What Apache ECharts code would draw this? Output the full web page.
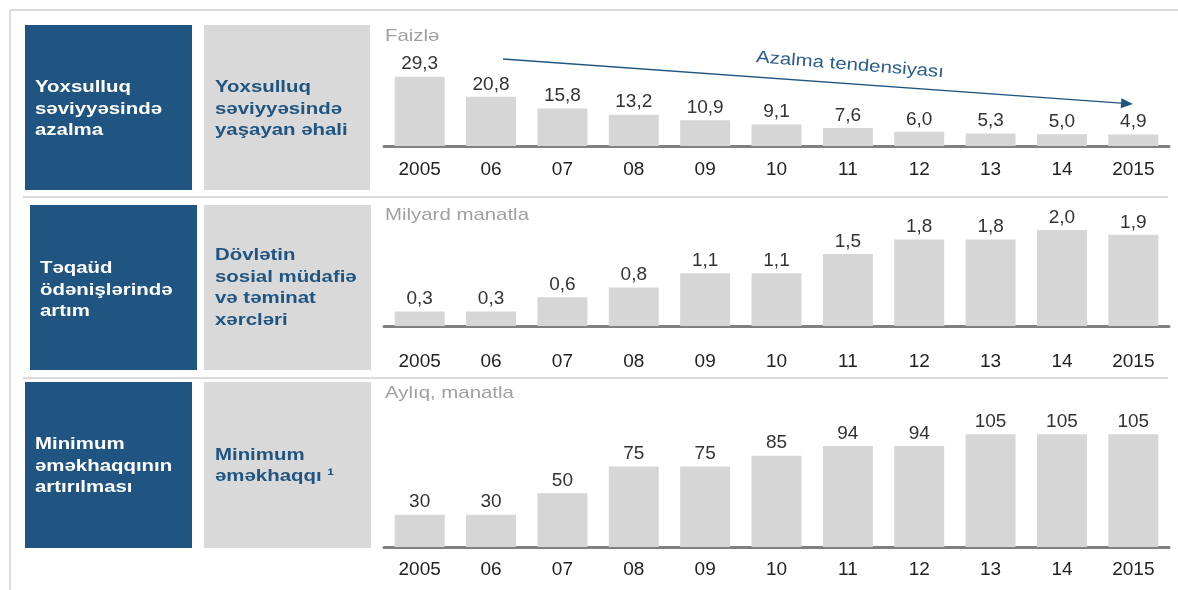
<!DOCTYPE html>
<html>
<head>
<meta charset="utf-8">
<script src="https://cdn.jsdelivr.net/npm/echarts@6/dist/echarts.min.js"></script>
<style>
  html, body { margin: 0; padding: 0; background: #fff; }
  #main { width: 1178px; height: 590px; }
</style>
</head>
<body>
<div id="main"></div>
<script>
// kateqoriyalar
var years = ['2005', '06', '07', '08', '09', '10', '11', '12', '13', '14', '2015']
// Yoxsulluq səviyyəsində yaşayan əhali, faizlə
var poverty = [29.3, 20.8, 15.8, 13.2, 10.9, 9.1, 7.6, 6.0, 5.3, 5.0, 4.9]
// Dövlətin sosial müdafiə və təminat xərcləri, milyard manatla
var socialSpend = [0.3, 0.3, 0.6, 0.8, 1.1, 1.1, 1.5, 1.8, 1.8, 2.0, 1.9]
// Minimum əməkhaqqı, aylıq, manatla
var minWage = [30, 30, 50, 75, 75, 85, 94, 94, 105, 105, 105]

var FONT = '"Liberation Sans", Arial, sans-serif'
var DARK = '#1f5580'
var LIGHT = '#d9d9d9'
var SX = 1.2 // şəkil bir az enə dartılıb

var myChart = echarts.init(document.getElementById('main'))

function comma (v) {
  return v.toFixed(1).replace('.', ',')
}

function xAxisFor (idx, margin) {
  return {
    type: 'category',
    gridIndex: idx,
    data: years,
    axisTick: { show: false },
    axisLine: { lineStyle: { color: '#808080', width: 3 } },
    axisLabel: { color: '#222', fontSize: 19, fontFamily: FONT, margin: margin }
  }
}

function yAxisFor (idx, max) {
  return {
    type: 'value',
    gridIndex: idx,
    min: 0,
    max: max,
    show: false,
    splitLine: { show: false }
  }
}

function barSeries (idx, data, fmt) {
  return {
    type: 'bar',
    xAxisIndex: idx,
    yAxisIndex: idx,
    data: data,
    barWidth: 50,
    itemStyle: { color: '#d6d6d6' },
    label: {
      show: true,
      position: 'top',
      distance: 3,
      color: '#333',
      fontSize: 19,
      fontFamily: FONT,
      formatter: function (p) { return fmt(p.value) }
    },
    animation: false
  }
}

// sol tərəfdəki qutular
function box (x, y, w, h, fill, lines, color, tx, ty) {
  return [
    { type: 'rect', shape: { x: x, y: y, width: w, height: h }, style: { fill: fill } },
    {
      type: 'text',
      x: tx,
      y: ty,
      scaleX: SX,
      style: {
        text: lines.join('\n'),
        fill: color,
        font: 'bold 17px ' + FONT,
        lineHeight: 21.5,
        verticalAlign: 'middle'
      }
    }
  ]
}

function unitText (x, y, t) {
  return { type: 'text', x: x, y: y, scaleX: SX, style: { text: t, fill: '#a0a0a0', font: '17px ' + FONT, verticalAlign: 'middle' } }
}

function hline (x1, x2, y) {
  return { type: 'line', shape: { x1: x1, y1: y, x2: x2, y2: y }, style: { stroke: '#dcdcdc', lineWidth: 2 } }
}

// tendensiya oxu
var ax1 = 503, ay1 = 59, ax2 = 1133, ay2 = 104
var ang = Math.atan2(ay2 - ay1, ax2 - ax1)
var hl = 12, hw = 5
var bx = ax2 - hl * Math.cos(ang), by = ay2 - hl * Math.sin(ang)
var head = [
  [ax2, ay2],
  [bx + hw * Math.sin(ang), by - hw * Math.cos(ang)],
  [bx - hw * Math.sin(ang), by + hw * Math.cos(ang)]
]

var graphics = [
  // çərçivə
  { type: 'line', shape: { x1: 10, y1: 10, x2: 1178, y2: 10 }, style: { stroke: '#dcdcdc', lineWidth: 2 } },
  { type: 'line', shape: { x1: 10, y1: 10, x2: 10, y2: 590 }, style: { stroke: '#dcdcdc', lineWidth: 2 } },
  hline(23, 1168, 197),
  hline(23, 1168, 378),
  unitText(385, 36, 'Faizlə'),
  unitText(385, 215, 'Milyard manatla'),
  unitText(385, 393, 'Aylıq, manatla'),
  { type: 'line', shape: { x1: ax1, y1: ay1, x2: bx, y2: by }, style: { stroke: DARK, lineWidth: 1.3 } },
  { type: 'polygon', shape: { points: head }, style: { fill: DARK } },
  {
    type: 'text',
    x: 850,
    y: 65,
    rotation: -4.6 * Math.PI / 180,
    scaleX: SX,
    style: { text: 'Azalma tendensiyası', fill: '#2a5d8c', font: '17px ' + FONT, align: 'center', verticalAlign: 'middle' }
  }
]
  .concat(box(25, 25, 167, 165, DARK, ['Yoxsulluq', 'səviyyəsində', 'azalma'], '#fff', 35, 109))
  .concat(box(204, 25, 166, 165, LIGHT, ['Yoxsulluq', 'səviyyəsində', 'yaşayan əhali'], DARK, 215, 109))
  .concat(box(30, 205, 167, 165, DARK, ['Təqaüd', 'ödənişlərində', 'artım'], '#fff', 40, 290))
  .concat(box(204, 205, 167, 165, LIGHT, ['Dövlətin', 'sosial müdafiə', 'və təminat', 'xərcləri'], DARK, 215, 288))
  .concat(box(25, 382, 167, 166, DARK, ['Minimum', 'əməkhaqqının', 'artırılması'], '#fff', 35, 466))
  .concat(box(204, 382, 167, 166, LIGHT, ['Minimum', 'əməkhaqqı ¹'], DARK, 215, 466))

var option = {
  backgroundColor: '#fff',
  animation: false,
  grid: [
    { left: 384, right: 9, top: 75, height: 71 },
    { left: 384, right: 9, top: 206, height: 120 },
    { left: 384, right: 9, top: 418, height: 129 }
  ],
  xAxis: [xAxisFor(0, 14), xAxisFor(1, 26), xAxisFor(2, 13)],
  yAxis: [yAxisFor(0, 30), yAxisFor(1, 2.5), yAxisFor(2, 120)],
  series: [
    barSeries(0, poverty, comma),
    barSeries(1, socialSpend, comma),
    barSeries(2, minWage, function (v) { return String(v) })
  ],
  graphic: graphics
}

myChart.setOption(option)
</script>
</body>
</html>
